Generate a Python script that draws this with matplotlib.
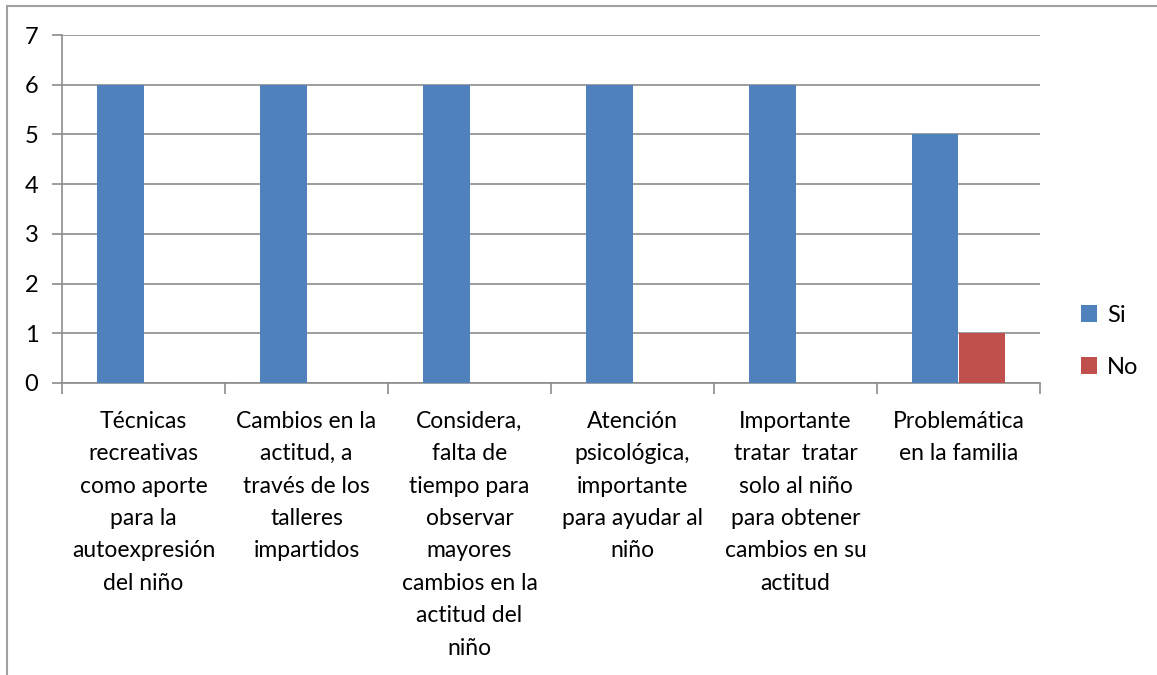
import matplotlib.pyplot as plt
import numpy as np
from matplotlib.patches import Rectangle

categorias = ["Técnicas\nrecreativas\ncomo aporte\npara la\nautoexpresión\ndel niño",
              "Cambios en la\nactitud, a\ntravés de los\ntalleres\nimpartidos",
              "Considera,\nfalta de\ntiempo para\nobservar\nmayores\ncambios en la\nactitud del\nniño",
              "Atención\npsicológica,\nimportante\npara ayudar al\nniño",
              "Importante\ntratar  tratar\nsolo al niño\npara obtener\ncambios en su\nactitud",
              "Problemática\nen la familia"]
si = [6, 6, 6, 6, 6, 5]
no = [0, 0, 0, 0, 0, 1]
series = ["Si", "No"]

plt.rcParams['font.family'] = ['Lato', 'DejaVu Sans']
fig = plt.figure(figsize=(11.57, 6.75), dpi=100)
ax = fig.add_axes([62/1157, 1-383/675, (1040-62)/1157, (383-35)/675])

# outer chart border (partial, like the source)
fig.add_artist(Rectangle((7/1157, -0.1), 1.2, (675-6)/675 + 0.1, transform=fig.transFigure,
                         fill=False, edgecolor='#a0a0a0', linewidth=1.5))

x = np.arange(len(categorias))
w = 1/3.5
ax.bar(x - w/2, si, w, color='#4F81BD', label=series[0], zorder=3)
ax.bar(x + w/2, no, w, color='#C0504D', label=series[1], zorder=3)

ax.set_xlim(-0.5, len(categorias) - 0.5)
ax.set_ylim(0, 7)
ax.set_yticks(range(0, 8))
ax.yaxis.grid(True, color='#8c8c8c', linewidth=1.2, zorder=0)
ax.tick_params(axis='y', length=7, width=1.2, color='#8c8c8c', labelsize=17, pad=10)

ax.set_xticks(x)
ax.set_xticklabels(categorias, fontsize=16.5, linespacing=1.67, va='top')
ax.tick_params(axis='x', length=0, pad=20)
ax.set_xticks(np.arange(-0.5, len(categorias)), minor=True)
ax.tick_params(axis='x', which='minor', length=8, width=1.2, color='#8c8c8c')

for s in ['top', 'right']:
    ax.spines[s].set_visible(False)
for s in ['left', 'bottom']:
    ax.spines[s].set_color('#8c8c8c')
    ax.spines[s].set_linewidth(1.2)

ax.legend(loc='center left', bbox_to_anchor=(1.02, 0.12), frameon=False, fontsize=17,
          handlelength=0.7, handleheight=0.7, labelspacing=1.3, handletextpad=0.4)

fig.savefig('out.png', dpi=100)
